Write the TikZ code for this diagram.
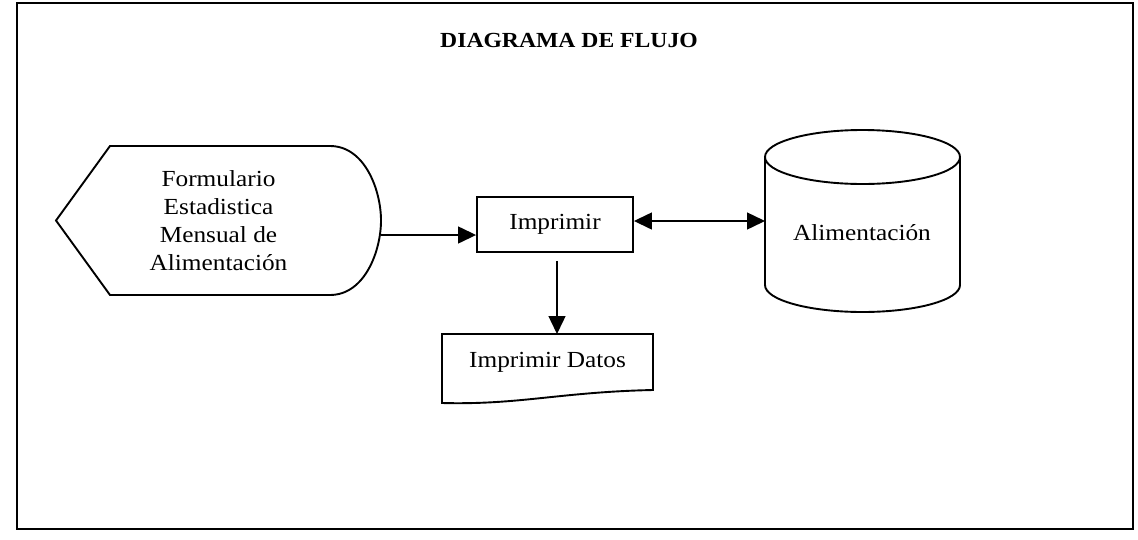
\documentclass[tikz,border=0pt]{standalone}
\usepackage{fontspec}
\setmainfont{Liberation Serif}[FakeStretch=1.1]
\usetikzlibrary{arrows.meta}
\begin{document}
\begin{tikzpicture}[x=1pt,y=-1pt,
  shapeline/.style={line width=1.9pt},
  arr/.style={line width=1.4pt,-{Triangle[length=18pt,width=17pt]}},
  darr/.style={line width=1.4pt,{Triangle[length=18pt,width=17pt]}-{Triangle[length=18pt,width=17pt]}},
  txt/.style={font=\fontsize{23}{28}\selectfont, align=center, inner sep=0pt},
  holder/.style={inner sep=0pt, outer sep=0pt, draw=none}]
\useasboundingbox (0,0) rectangle (1138,539);
\draw[line width=1.1pt] (17,3) rectangle (1133,529);
\node[font=\fontsize{21.5}{24}\selectfont\bfseries, inner sep=0pt] (title) at (569,40) {DIAGRAMA DE FLUJO};

% display shape
\node[holder, txt, minimum width=325pt, minimum height=149pt] (disp) at (218.5,220.5)
  {Formulario\\Estadistica\\Mensual de\\Alimentación};
\draw[shapeline] (disp.west) -- ([xshift=54pt]disp.north west) -- ([xshift=-51pt]disp.north east)
  .. controls ([xshift=-16pt]disp.north east) and ([yshift=30pt]disp.east) .. (disp.east)
  .. controls ([yshift=-30pt]disp.east) and ([xshift=-16pt]disp.south east) .. ([xshift=-51pt]disp.south east)
  -- ([xshift=54pt]disp.south west) -- cycle;

% process box
\node[draw, shapeline, txt, minimum width=156pt, minimum height=55pt] (imp) at (555,224.5) {Imprimir};

% document shape
\node[holder, txt, minimum width=211pt, minimum height=56pt] (doc) at (547.5,362) {Imprimir Datos};
\draw[shapeline] (doc.north west) -- (doc.north east) -- (doc.south east)
  .. controls ([xshift=-93pt,yshift=-2pt]doc.south east) and ([xshift=78pt,yshift=-15pt]doc.south west)
  .. ([yshift=-13pt]doc.south west) -- cycle;

% cylinder
\node[holder, minimum width=195pt, minimum height=182pt] (cyl) at (862.5,221) {};
\draw[shapeline] (cyl.north) ++(0,27) ellipse [x radius=97.5, y radius=27];
\draw[shapeline] ([yshift=-27pt]cyl.north west) -- ([yshift=27pt]cyl.south west)
  arc[start angle=180, end angle=0, x radius=97.5, y radius=27] -- ([yshift=-27pt]cyl.north east);
\node[txt] (cyltxt) at (862,233) {Alimentación};

% connectors
\coordinate (inL) at ([yshift=-10.5pt]imp.west);
\draw[arr] (inL -| disp.east) -- (inL);
\draw[darr] (imp.east |- cyl.west) -- (cyl.west);
\coordinate (dtop) at ([xshift=2pt]imp.south);
\draw[arr, shorten <=8pt] (dtop) -- (dtop |- doc.north);
\end{tikzpicture}
\end{document}
